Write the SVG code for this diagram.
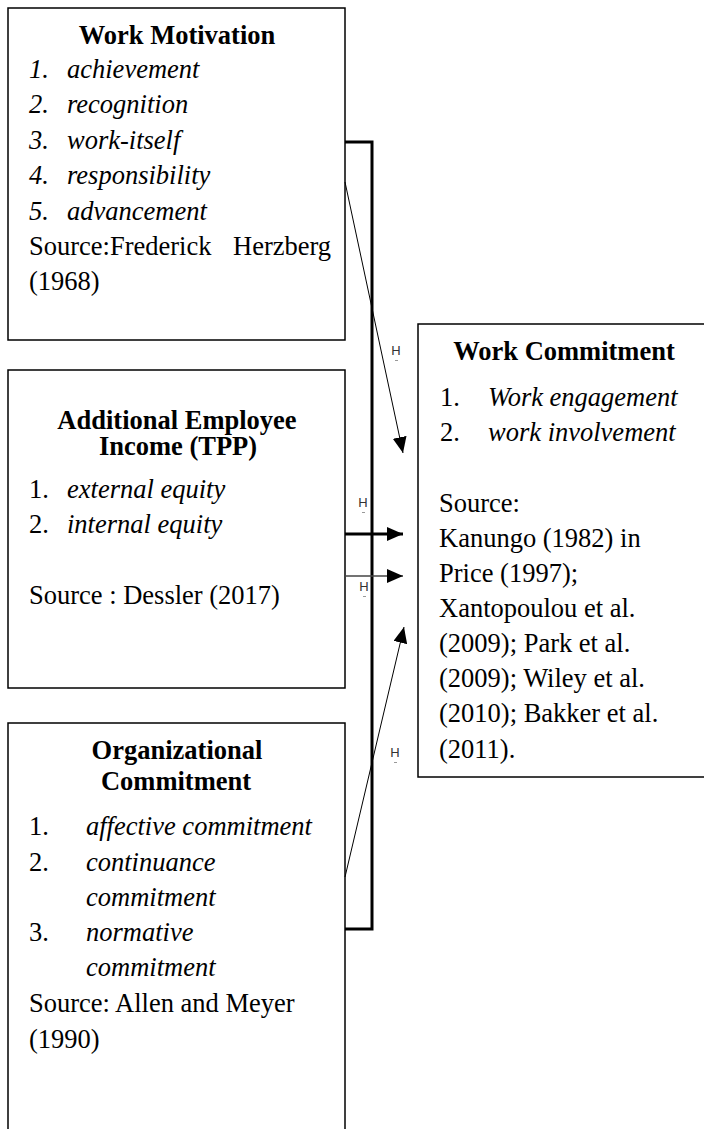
<svg xmlns="http://www.w3.org/2000/svg" width="704" height="1129" viewBox="0 0 704 1129">
  <style>
    .box { fill: #ffffff; stroke: #000000; stroke-width: 1.5; }
    .t { font-family: "Liberation Serif", "Times New Roman", serif; font-size: 26.5px; fill: #000000; }
    .title { font-weight: bold; text-anchor: middle; }
    .it { font-style: italic; }
    .h { font-family: "Liberation Sans", Arial, sans-serif; font-size: 13px; fill: #333333; text-anchor: middle; }
    .tick { fill: #999999; }
    .thick { stroke: #000000; stroke-width: 3; fill: none; }
    .thin { stroke: #000000; stroke-width: 1; fill: none; }
    .grey { stroke: #444444; stroke-width: 1.5; fill: none; }
  </style>
  <defs>
    <marker id="arrow" viewBox="0 0 16 14" refX="16" refY="7" markerWidth="16" markerHeight="14" markerUnits="userSpaceOnUse" orient="auto">
      <path d="M0,0 L16,7 L0,14 Z" fill="#000000"/>
    </marker>
  </defs>
  <rect width="704" height="1129" fill="#ffffff"/>

  <!-- Work Motivation -->
  <g id="work-motivation">
    <rect class="box" x="8" y="8" width="337" height="332"/>
    <text class="t title" x="177" y="44">Work Motivation</text>
    <text class="t it" y="78"><tspan x="29">1.</tspan><tspan x="67">achievement</tspan></text>
    <text class="t it" y="113"><tspan x="29">2.</tspan><tspan x="67">recognition</tspan></text>
    <text class="t it" y="149"><tspan x="29">3.</tspan><tspan x="67">work-itself</tspan></text>
    <text class="t it" y="184"><tspan x="29">4.</tspan><tspan x="67">responsibility</tspan></text>
    <text class="t it" y="220"><tspan x="29">5.</tspan><tspan x="67">advancement</tspan></text>
    <text class="t" y="255"><tspan x="29">Source:Frederick</tspan><tspan x="233">Herzberg</tspan></text>
    <text class="t" x="29" y="290">(1968)</text>
  </g>

  <!-- Additional Employee Income (TPP) -->
  <g id="employee-income">
    <rect class="box" x="8" y="370" width="337" height="318"/>
    <text class="t title" x="177" y="429">Additional Employee</text>
    <text class="t title" x="178" y="455">Income (TPP)</text>
    <text class="t" y="498"><tspan x="29">1.</tspan><tspan class="it" x="67">external equity</tspan></text>
    <text class="t" y="533"><tspan x="29">2.</tspan><tspan class="it" x="67">internal equity</tspan></text>
    <text class="t" x="29" y="604">Source : Dessler (2017)</text>
  </g>

  <!-- Organizational Commitment -->
  <g id="organizational-commitment">
    <rect class="box" x="8" y="723" width="337" height="430"/>
    <text class="t title" x="177" y="759">Organizational</text>
    <text class="t title" x="176" y="790">Commitment</text>
    <text class="t" y="835"><tspan x="29">1.</tspan><tspan class="it" x="86">affective commitment</tspan></text>
    <text class="t" y="871"><tspan x="29">2.</tspan><tspan class="it" x="86">continuance</tspan></text>
    <text class="t it" x="86" y="906">commitment</text>
    <text class="t" y="941"><tspan x="29">3.</tspan><tspan class="it" x="86">normative</tspan></text>
    <text class="t it" x="86" y="976">commitment</text>
    <text class="t" x="29" y="1012">Source: Allen and Meyer</text>
    <text class="t" x="29" y="1048">(1990)</text>
  </g>

  <!-- Work Commitment -->
  <g id="work-commitment">
    <rect class="box" x="418" y="324" width="300" height="453"/>
    <text class="t title" x="564" y="360">Work Commitment</text>
    <text class="t" y="406"><tspan x="440">1.</tspan><tspan class="it" x="488">Work engagement</tspan></text>
    <text class="t" y="441"><tspan x="440">2.</tspan><tspan class="it" x="488">work involvement</tspan></text>
    <text class="t" x="439" y="512">Source:</text>
    <text class="t" x="439" y="547">Kanungo (1982) in</text>
    <text class="t" x="439" y="582">Price (1997);</text>
    <text class="t" x="439" y="617">Xantopoulou et al.</text>
    <text class="t" x="439" y="652">(2009); Park et al.</text>
    <text class="t" x="439" y="687">(2009); Wiley et al.</text>
    <text class="t" x="439" y="722">(2010); Bakker et al.</text>
    <text class="t" x="439" y="758">(2011).</text>
  </g>

  <!-- Connectors -->
  <g id="connectors">
    <path class="thick" d="M345,142 H372 V929 H345"/>
    <line class="thin" x1="345" y1="182" x2="403" y2="453" marker-end="url(#arrow)"/>
    <line class="thick" x1="345" y1="534" x2="403" y2="534" marker-end="url(#arrow)"/>
    <line class="grey" x1="345" y1="576" x2="403" y2="576" marker-end="url(#arrow)"/>
    <line class="thin" x1="345" y1="877" x2="404" y2="627" marker-end="url(#arrow)"/>
  </g>

  <!-- Hypothesis labels -->
  <g id="labels">
    <text class="h" x="396" y="355">H</text>
    <rect class="tick" x="395" y="360" width="3" height="1"/>
    <text class="h" x="363" y="507">H</text>
    <rect class="tick" x="362" y="512" width="3" height="1"/>
    <text class="h" x="364" y="591">H</text>
    <rect class="tick" x="363" y="596" width="3" height="1"/>
    <text class="h" x="395" y="757">H</text>
    <rect class="tick" x="394" y="762" width="3" height="1"/>
  </g>
</svg>
